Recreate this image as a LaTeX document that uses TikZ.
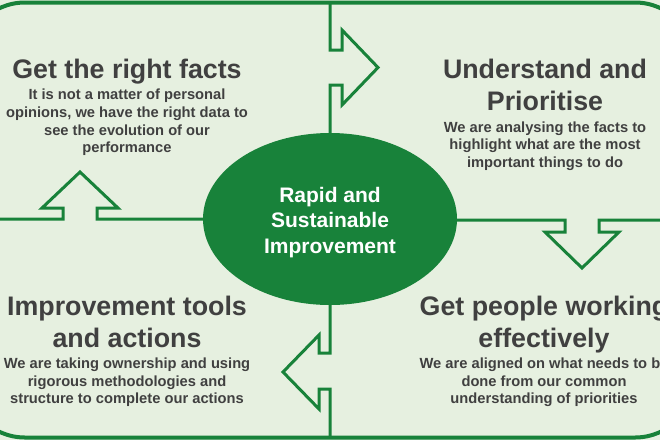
\documentclass[tikz,border=0pt]{standalone}
\usepackage{fontspec}
\setmainfont{Liberation Sans}
\usetikzlibrary{shapes.geometric}
\definecolor{leaf}{RGB}{230,240,224}
\definecolor{forest}{RGB}{24,130,58}
\definecolor{ink}{RGB}{64,64,64}
\begin{document}
\begin{tikzpicture}[x=1pt,y=-1pt,
  border/.style={draw=forest,line width=3pt,line join=miter,miter limit=10},
  title/.style={anchor=base,inner sep=0pt,text=ink,font=\fontsize{26.8}{32}\selectfont\bfseries},
  body/.style={anchor=base,inner sep=0pt,text=ink,font=\fontsize{14.7}{17}\selectfont\bfseries},
  hubtext/.style={anchor=base,inner sep=0pt,text=white,font=\fontsize{21}{25}\selectfont\bfseries}]
\useasboundingbox (0,0) rectangle (660,440);
\clip (0,0) rectangle (660,440);
\fill[leaf] (0,0) rectangle (660,440);
\filldraw[fill=leaf,border,line width=4pt,rounded corners=60pt] (-35,2.5) rectangle (695,437.5);
% top vertical divider with right-pointing arrow
\draw[border] (330,2) -- (330,50) -- (342,50) -- (342,30) -- (378,67.5) -- (342,105) -- (342,85) -- (330,85) -- (330,219);
% bottom vertical divider with left-pointing arrow
\draw[border] (330,219) -- (330,353) -- (319,353) -- (319,335) -- (283,372) -- (319,409) -- (319,389) -- (330,389) -- (330,438);
% left horizontal divider with up arrow
\draw[border] (-40,219) -- (63,219) -- (63,208) -- (42,208) -- (80,172) -- (118,208) -- (97,208) -- (97,219) -- (330,219);
% right horizontal divider with down arrow
\draw[border] (330,220) -- (565,220) -- (565,232) -- (545,232) -- (582,268) -- (619,232) -- (599,232) -- (599,220) -- (700,220);
% hub
\node[ellipse,fill=forest,inner sep=0pt,minimum width=254pt,minimum height=172pt] (hub) at (330,219) {};
\node[hubtext] (hub1) at (330,202) {Rapid and};
\node[hubtext] (hub2) at (330,227) {Sustainable};
\node[hubtext] (hub3) at (330,253) {Improvement};
% top left
\node[title] (tlt) at (127,78) {Get the right facts};
\node[body] (tlb1) at (127,99) {It is not a matter of personal};
\node[body] (tlb2) at (127,117) {opinions, we have the right data to};
\node[body] (tlb3) at (127,135) {see the evolution of our};
\node[body] (tlb4) at (127,152) {performance};
% top right
\node[title] (trt1) at (545,78) {Understand and};
\node[title] (trt2) at (545,110) {Prioritise};
\node[body] (trb1) at (545,132) {We are analysing the facts to};
\node[body] (trb2) at (545,149) {highlight what are the most};
\node[body] (trb3) at (545,167) {important things to do};
% bottom left
\node[title] (blt1) at (127,315) {Improvement tools};
\node[title] (blt2) at (127,347) {and actions};
\node[body] (blb1) at (127,368) {We are taking ownership and using};
\node[body] (blb2) at (127,386) {rigorous methodologies and};
\node[body] (blb3) at (127,403) {structure to complete our actions};
% bottom right
\node[title] (brt1) at (544,315) {Get people working};
\node[title] (brt2) at (544,347) {effectively};
\node[body] (brb1) at (544,368) {We are aligned on what needs to be};
\node[body] (brb2) at (544,386) {done from our common};
\node[body] (brb3) at (544,403) {understanding of priorities};
\end{tikzpicture}
\end{document}
